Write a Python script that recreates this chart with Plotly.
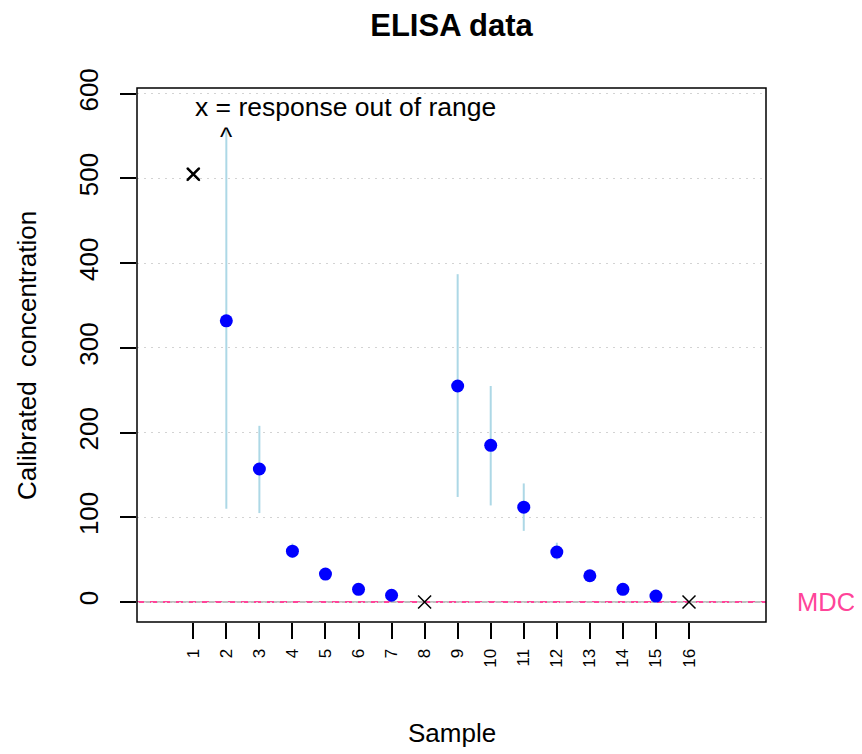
import plotly.graph_objects as go

# ---- data ----
samples = list(range(1, 17))
tick_labels = [str(s) for s in samples]
conc = [None, 332, 157, 60, 33, 15, 8, None, 255, 185, 112, 59, 31, 15, 7, None]
lower = [None, 110, 105, 52, 29, 12, 6, None, 124, 114, 84, 50, 27, 12, 5, None]
upper = [None, 557, 208, 69, 37, 18, 10, None, 387, 255, 140, 70, 35, 18, 9, None]
oor_samples = [1, 8, 16]
oor_values = [505, 0, 0]
mdc_value = 0
y_ticks = [0, 100, 200, 300, 400, 500, 600]

err_plus = [None if c is None else u - c for c, u in zip(conc, upper)]
err_minus = [None if c is None else c - l for c, l in zip(conc, lower)]

FONT = "Liberation Sans, Arial, sans-serif"
PINK = "#FF4499"

fig = go.Figure()

# MDC line: grey solid + pink dashed on top
fig.add_hline(y=mdc_value, line=dict(color="#BEBEBE", width=2), layer="below")
fig.add_hline(y=mdc_value, line=dict(color=PINK, width=2, dash="7px,6px"), layer="below")

fig.add_trace(go.Scatter(
    x=samples, y=conc, mode="markers",
    marker=dict(color="#0000FF", size=13, line=dict(width=0)),
    error_y=dict(type="data", symmetric=False, array=err_plus, arrayminus=err_minus,
                 color="#ADD8E6", thickness=2, width=0),
    showlegend=False, cliponaxis=False,
))
fig.add_trace(go.Scatter(
    x=oor_samples, y=oor_values, mode="markers",
    marker=dict(symbol="x-thin", size=13, line=dict(color="black", width=1.5)),
    showlegend=False, cliponaxis=False,
))
# extra bold stroke for first out-of-range point
fig.add_trace(go.Scatter(
    x=oor_samples[:1], y=oor_values[:1], mode="markers",
    marker=dict(symbol="x-thin", size=12, line=dict(color="black", width=2.5)),
    showlegend=False, cliponaxis=False,
))

fig.add_annotation(x=1, y=584, xref="x", yref="y", text="x = response out of range",
                   showarrow=False, xanchor="left", yanchor="middle",
                   font=dict(family=FONT, size=26.5, color="black"))
fig.add_annotation(x=2, y=549, xref="x", yref="y", text="^",
                   showarrow=False, xanchor="center", yanchor="middle",
                   font=dict(family=FONT, size=26, color="black"))
fig.add_annotation(x=1.0461, y=mdc_value, xref="paper", yref="y", text="MDC",
                   showarrow=False, xanchor="left", yanchor="middle",
                   font=dict(family=FONT, size=25.5, color=PINK))

# axis titles
fig.add_annotation(x=-0.175, y=0.5, xref="paper", yref="paper",
                   text="Calibrated\u00a0 concentration", textangle=-90,
                   showarrow=False, xanchor="center", yanchor="middle",
                   font=dict(family=FONT, size=26, color="black"))
fig.add_annotation(x=0.5, y=-0.208, xref="paper", yref="paper", text="Sample",
                   showarrow=False, xanchor="center", yanchor="middle",
                   font=dict(family=FONT, size=26, color="black"))

# plot box
fig.add_shape(type="rect", xref="paper", yref="paper", x0=0, x1=1, y0=0, y1=1,
              line=dict(color="black", width=1.5), layer="above")

fig.update_layout(
    width=854, height=746,
    margin=dict(l=129, r=96, t=80, b=132),
    paper_bgcolor="white", plot_bgcolor="white",
    title=dict(text="<b>ELISA data</b>", x=0.5, xref="paper", y=1 - 17 / 746,
               yanchor="middle", font=dict(family=FONT, size=31, color="black")),
    font=dict(family=FONT, color="black"),
    xaxis=dict(range=[-0.703, 18.33], tickvals=samples, ticktext=tick_labels,
               tickangle=-90, ticks="outside", ticklen=16, tickwidth=1.5,
               tickcolor="black", showgrid=False, zeroline=False, showline=False,
               tickfont=dict(family=FONT, size=17, color="black"),
               ticklabelstandoff=3),
    yaxis=dict(range=[-23.6, 606.8], tickvals=y_ticks,
               tickangle=-90, ticks="outside", ticklen=16, tickwidth=1.5,
               tickcolor="black", showgrid=True, gridcolor="#D3D3D3", gridwidth=1,
               griddash="2px,5px", zeroline=False, showline=False,
               tickfont=dict(family=FONT, size=26, color="black"),
               ticklabelstandoff=12),
)

fig.write_html("out.html")
